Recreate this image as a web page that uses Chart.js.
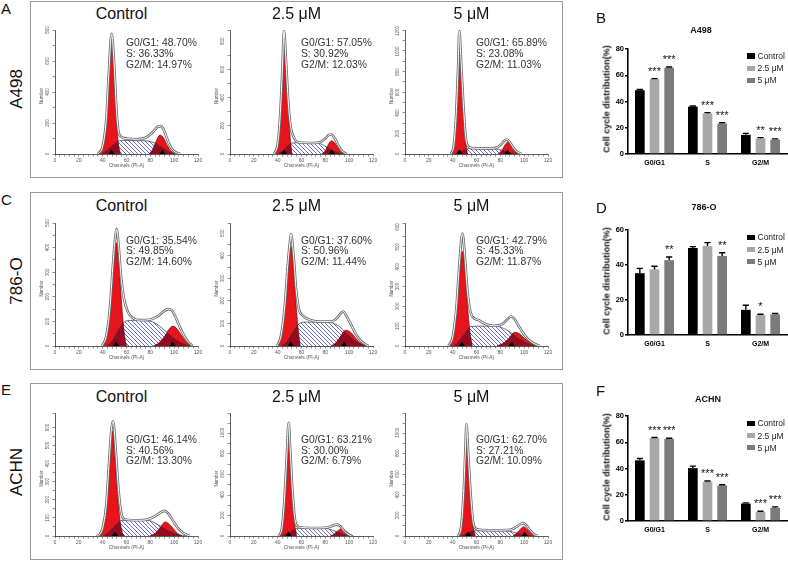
<!DOCTYPE html>
<html>
<head>
<meta charset="utf-8">
<title>Cell cycle distribution</title>
<script src="https://cdn.jsdelivr.net/npm/chart.js@4.4.0/dist/chart.umd.min.js"></script>
<style>
  body { margin: 0; background: #fff; font-family: "Liberation Sans", Arial, sans-serif; }
  #fig { position: relative; width: 788px; height: 562px; overflow: hidden; background: #fff; }
  .frame { position: absolute; border: 1px solid #9a9a9a; box-sizing: border-box; }
  .txt { position: absolute; white-space: nowrap; color: #111; line-height: 1; }
  canvas { position: absolute; }
</style>
</head>
<body>
<div id="fig"></div>
<script>
/* ---------- Labels ---------- */
const CELL_LINES = ['A498', '786-O', 'ACHN'];
const DOSES      = ['Control', '2.5 μM', '5 μM'];
const PHASES     = ['G0/G1', 'S', 'G2/M'];
const PHASE_TEXT = ['G0/G1', 'S', 'G2/M'];

/* ---------- Flow histograms: [channel, count] ---------- */
// A498
const A498_CTRL_G1  = [[37,0],[40,40],[43,200],[45,480],[47.5,750],[49.5,560],[51.5,250],[53,80],[55,0]];
const A498_CTRL_S   = [[39,0],[44,25],[49,60],[53,82],[58,88],[70,86],[78,84],[84,70],[90,40],[96,12],[100,0]];
const A498_CTRL_G2  = [[79,0],[82,30],[85,85],[88,122],[91,105],[94,60],[97,22],[101,0]];
const A498_CTRL_SUM = [[36,0],[40,50],[43,220],[45,500],[47.5,775],[49.5,600],[51.5,300],[53,160],[55,115],[60,100],[68,95],[76,105],[82,140],[86,175],[88.5,180],[91,160],[94,100],[97,45],[101,12],[105,0]];
const A498_CTRL_MARK = [47.5, 90];

const A498_LOW_G1  = [[37.5,0],[40,60],[42,250],[44,600],[45.3,865],[47,640],[49,330],[50.5,120],[52,0]];
const A498_LOW_S   = [[40,0],[44,20],[48,55],[52,78],[60,80],[70,78],[76,72],[81,50],[86,25],[91,8],[95,0]];
const A498_LOW_G2  = [[77,0],[80,25],[83,75],[85.3,94],[88,78],[91,40],[93.5,12],[96,0]];
const A498_LOW_SUM = [[37,0],[40,70],[42,260],[44,610],[45.3,875],[47,660],[49,360],[51,190],[53,130],[56,88],[62,80],[70,78],[76,85],[80,110],[83,135],[85,138],[88,110],[91,60],[94,22],[98,0]];
const A498_LOW_MARK = [45.3, 85.3];

const A498_HIGH_G1  = [[39,0],[41,80],[43,380],[44.5,800],[45.6,1185],[47,900],[49,450],[51,120],[52.5,0]];
const A498_HIGH_S   = [[41.5,0],[45,15],[49,38],[53,52],[65,52],[76,50],[81,38],[86,20],[91,6],[95,0]];
const A498_HIGH_G2  = [[78,0],[81,30],[84,90],[86.5,118],[89,95],[92,45],[94.5,12],[97,0]];
const A498_HIGH_SUM = [[38.5,0],[41,90],[43,400],[44.5,820],[45.6,1200],[47,920],[49,480],[51,160],[53,75],[56,58],[65,55],[75,57],[80,85],[83,125],[85.3,142],[88,115],[91,60],[94,22],[98,0]];
const A498_HIGH_MARK = [45.6, 86];

// 786-O
const O786_CTRL_G1  = [[40.5,0],[43,30],[46,130],[48.5,290],[50.5,410],[51.5,420],[53.5,340],[55.5,200],[57.5,80],[59.5,10],[60.5,0]];
const O786_CTRL_S   = [[43,0],[47,15],[51,45],[55,80],[59,100],[65,104],[75,103],[82,98],[88,80],[94,55],[100,30],[106,12],[111,3],[114.5,0]];
const O786_CTRL_G2  = [[82.5,0],[87,12],[92,40],[96,70],[99,81],[102,72],[106,45],[110,18],[115.5,0]];
const O786_CTRL_SUM = [[39.5,0],[43,40],[46,150],[48.5,320],[50.5,440],[51.7,475],[53.5,400],[55.5,280],[58,190],[61,140],[65,115],[72,105],[80,108],[86,120],[91,140],[95,150],[98,145],[101,120],[104,85],[108,45],[112,15],[115.5,0]];
const O786_CTRL_MARK = [51.2, 98.7];

const O786_LOW_G1  = [[40.5,0],[43,40],[46,160],[48.5,330],[50.5,435],[51.5,440],[53.5,340],[55.5,180],[57.5,60],[59,0]];
const O786_LOW_S   = [[43,0],[47,15],[51,45],[55,80],[59,102],[65,106],[78,106],[86,102],[92,85],[97,60],[102,35],[107,15],[111,5],[114.5,0]];
const O786_LOW_G2  = [[85,0],[89,15],[93,45],[97,70],[101,62],[105,38],[109,15],[114.5,0]];
const O786_LOW_SUM = [[39.5,0],[43,50],[46,180],[48.5,360],[50.5,470],[51.2,495],[53.5,390],[55.5,250],[58,160],[61,135],[66,118],[75,108],[85,108],[90,125],[93,145],[95,153],[98,130],[102,90],[106,50],[110,22],[116,0]];
const O786_LOW_MARK = [50.9, 95.7];

const O786_HIGH_G1  = [[37.5,0],[40,35],[43,160],[45.5,340],[47.5,470],[48.5,476],[50.5,370],[52.5,200],[54.5,70],[56.5,0]];
const O786_HIGH_S   = [[40.5,0],[44,15],[48,45],[52,80],[55,98],[65,100],[78,98],[84,85],[90,62],[96,35],[102,15],[107,4],[110,0]];
const O786_HIGH_G2  = [[77,0],[82,12],[87,38],[92,69],[96,62],[100,40],[105,18],[109,5],[113,0]];
const O786_HIGH_SUM = [[36.5,0],[40,45],[43,185],[45.5,400],[48.2,567],[50.5,430],[52.5,270],[55,170],[58,140],[62,130],[67,112],[75,102],[82,112],[86,135],[89,149],[92,135],[96,95],[100,58],[104,30],[109,10],[113,0]];
const O786_HIGH_MARK = [47.8, 89.4];

// ACHN
const ACHN_CTRL_G1  = [[37.5,0],[40,30],[43,150],[45.5,380],[47.5,560],[48.4,580],[50.5,420],[52.5,230],[54.5,90],[56.5,20],[58,0]];
const ACHN_CTRL_S   = [[40.5,0],[44,15],[48,40],[52,68],[56,86],[65,88],[78,86],[84,72],[90,48],[96,25],[102,10],[107,3],[110.5,0]];
const ACHN_CTRL_G2  = [[79.5,0],[84,15],[88,45],[92.5,78],[96,65],[100,35],[103,14],[106.5,0]];
const ACHN_CTRL_SUM = [[35,0],[38,12],[40,45],[43,170],[45.5,420],[47.5,600],[48.8,634],[51,470],[53,280],[55,150],[57,100],[60,90],[70,87],[78,92],[84,110],[89,132],[92,139],[95,125],[99,85],[103,45],[108,15],[113,0]];
const ACHN_CTRL_MARK = [50.3];

const ACHN_LOW_G1  = [[41.5,0],[43.5,60],[45.5,300],[47.5,700],[49.2,1050],[50.5,800],[52.5,380],[54.5,100],[56,0]];
const ACHN_LOW_S   = [[43,0],[46,12],[50,38],[54,62],[57,75],[68,76],[80,74],[85,60],[90,38],[95,16],[100.5,0]];
const ACHN_LOW_G2  = [[84,0],[87,15],[90,45],[93.5,70],[97,50],[100,22],[103.5,0]];
const ACHN_LOW_SUM = [[41,0],[43.5,70],[45.5,320],[47.5,740],[49.2,1095],[50.5,840],[52.5,420],[54.5,160],[56.5,95],[60,82],[70,78],[80,80],[85,95],[89,110],[92,100],[95,60],[98,25],[102,0]];
const ACHN_LOW_MARK = [49];

const ACHN_HIGH_G1  = [[45,0],[47,70],[49,350],[50.5,750],[51.6,1060],[53,780],[55,380],[57,110],[59,0]];
const ACHN_HIGH_S   = [[47,0],[50,15],[54,38],[58,50],[70,51],[85,49],[90,40],[95,22],[100,8],[107,0]];
const ACHN_HIGH_G2  = [[90.5,0],[93,20],[96,55],[99.5,90],[102,70],[105,35],[108,10],[110.5,0]];
const ACHN_HIGH_SUM = [[44.5,0],[47,80],[49,370],[50.5,780],[51.6,1080],[53,810],[55,420],[57,150],[59,75],[63,60],[75,56],[88,60],[93,85],[97,115],[99.5,122],[102,100],[105,55],[108,18],[111,0]];
const ACHN_HIGH_MARK = [53, 100.4];

/* ---------- Histogram axes (count range + label step) ---------- */
const A498_YMAX = [800, 880, 1210];   const A498_YSTEP = [200, 200, 200];
const O786_YMAX = [500, 545, 620];    const O786_YSTEP = [100, 100, 100];
const ACHN_YMAX = [680, 1190, 1190];  const ACHN_YSTEP = [100, 200, 200];
const CHANNEL_TICKS = [0, 20, 40, 60, 80, 100, 120];

/* ---------- Phase percentages printed on the histograms ---------- */
const A498_PCT = [[48.70, 36.33, 14.97], [57.05, 30.92, 12.03], [65.89, 23.08, 11.03]];
const O786_PCT = [[35.54, 49.85, 14.60], [37.60, 50.96, 11.44], [42.79, 45.33, 11.87]];
const ACHN_PCT = [[46.14, 40.56, 13.30], [63.21, 30.00, 6.79],  [62.70, 27.21, 10.09]];

/* ---------- Bar charts (mean, error, significance) ---------- */
const A498_BAR = [[48.6, 36.1, 14.6], [57.0, 30.9, 11.9], [65.7, 23.2, 11.0]];
const A498_ERR = [[0.6, 0.5, 1.1], [0.4, 0.6, 0.6], [0.6, 0.6, 0.5]];
const A498_SIG = [['', '', ''], ['***', '***', '**'], ['***', '***', '***']];

const O786_BAR = [[35.3, 49.7, 14.4], [37.5, 50.9, 11.4], [42.8, 45.2, 11.8]];
const O786_ERR = [[2.8, 0.8, 2.6], [1.8, 1.9, 0.5], [1.8, 1.8, 0.5]];
const O786_SIG = [['', '', ''], ['', '', '*'], ['**', '**', '']];

const ACHN_BAR = [[46.2, 40.3, 13.3], [63.1, 29.9, 6.9], [62.6, 27.1, 10.1]];
const ACHN_ERR = [[1.4, 1.5, 0.5], [0.5, 0.6, 0.5], [0.5, 0.5, 0.7]];
const ACHN_SIG = [['', '', ''], ['***', '***', '***'], ['***', '***', '***']];

const BAR_YMAX = [80, 60, 80];
const BAR_TICKS = [0, 20, 40, 60, 80];

/* ---------- Layout ---------- */
const FONT = '"Liberation Sans", Arial, sans-serif';
const RED = '#e8141c';
const BAR_COLORS = ['#000000', '#a8a8a8', '#7c7c7c'];
const COL_X0 = [55, 230, 405];
const PLOT_W = 143;
const ROW_TOP = [29, 222, 412];
const ROW_BASE = [154, 346, 536];
const ROW_FRAME = [[1, 178], [192, 370], [383, 560]];
const TITLE_Y = [14, 206, 396.5];
const PCT_Y = [[43.3, 54, 64.8], [240.5, 251, 261.5], [440.3, 450.8, 461.3]];
const ROW_LETTER_Y = [8, 199, 389];
const ROW_NAME_Y = [89, 281, 472];
const BAR_TOP = [48.7, 230, 416];
const BAR_BASE = [154, 335, 521];
const BAR_TITLE = [[701, 30], [704, 206.7], [708, 399.3]];
const BAR_LETTER = [['B', 17], ['D', 207], ['F', 390]];
const ROW_LETTER = ['A', 'C', 'E'];
const LEGEND_DY = [7.3, 19.5, 31.7];

Chart.defaults.font.family = FONT;

const fig = document.getElementById('fig');

function addText(str, x, y, css, anchor) {
  const d = document.createElement('div');
  d.className = 'txt';
  d.textContent = str;
  Object.assign(d.style, { left: x + 'px', top: y + 'px' }, css || {});
  d.style.transform = anchor || 'translate(-50%,-50%)';
  fig.appendChild(d);
  return d;
}

function addCanvas(left, top, w, h) {
  const c = document.createElement('canvas');
  c.width = w; c.height = h;
  c.style.left = left + 'px'; c.style.top = top + 'px';
  c.style.width = w + 'px'; c.style.height = h + 'px';
  fig.appendChild(c);
  return c;
}

/* hatch tile for the S phase area: crisp one-pixel diagonal */
const hatchTile = (() => {
  const c = document.createElement('canvas');
  c.width = 4; c.height = 4;
  const g = c.getContext('2d');
  g.fillStyle = '#fff'; g.fillRect(0, 0, 4, 4);
  g.fillStyle = '#6b6bd4';
  for (let i = 0; i < 4; i++) g.fillRect(i, i, 1, 1);
  return c;
})();

/* triangle marker sitting on the baseline */
const triMarker = (() => {
  const c = document.createElement('canvas');
  c.width = 7; c.height = 10;
  const g = c.getContext('2d');
  g.fillStyle = '#000';
  g.beginPath(); g.moveTo(3.5, 0.5); g.lineTo(6.5, 5); g.lineTo(0.5, 5); g.closePath(); g.fill();
  return c;
})();

/* ---------- Plugins ---------- */
// per-dataset composite mode; must run before the filler so the fill uses it
const compositePlugin = {
  id: 'composite',
  beforeDatasetDraw(chart, args) {
    const op = chart.data.datasets[args.index].composite;
    if (op) { chart.ctx.save(); chart.ctx.globalCompositeOperation = op; }
  },
  afterDatasetDraw(chart, args) {
    if (chart.data.datasets[args.index].composite) chart.ctx.restore();
  }
};
const fillerPlugin = Chart.registry.getPlugin('filler');
Chart.unregister(fillerPlugin);
Chart.register(compositePlugin, fillerPlugin);

const histDecor = {
  id: 'histDecor',
  afterDraw(chart, args, o) {
    if (!o || !o.step) return;
    const { ctx, chartArea, scales } = chart;
    ctx.save();
    ctx.fillStyle = '#555';
    ctx.font = '4.5px ' + FONT;
    ctx.textAlign = 'center';
    ctx.textBaseline = 'middle';
    for (let v = 0; v <= scales.y.max; v += o.step) {
      const y = scales.y.getPixelForValue(v);
      ctx.save();
      ctx.translate(chartArea.left - 7, y);
      ctx.rotate(-Math.PI / 2);
      ctx.fillText(String(v), 0, 0);
      ctx.restore();
    }
    ctx.translate(chartArea.left - 13, (chartArea.top + chartArea.bottom) / 2 + 4);
    ctx.rotate(-Math.PI / 2);
    ctx.fillText('Number', 0, 0);
    ctx.restore();
  }
};

const errorBars = {
  id: 'errorBars',
  afterDatasetsDraw(chart) {
    const { ctx } = chart;
    const y = chart.scales.y;
    chart.data.datasets.forEach((ds, i) => {
      chart.getDatasetMeta(i).data.forEach((bar, j) => {
        const yTop = y.getPixelForValue(ds.data[j] + ds.errors[j]);
        const half = bar.width * 0.32;
        ctx.save();
        ctx.strokeStyle = '#000';
        ctx.lineWidth = 1.4;
        ctx.beginPath();
        ctx.moveTo(bar.x, bar.y); ctx.lineTo(bar.x, yTop);
        ctx.moveTo(bar.x - half, yTop); ctx.lineTo(bar.x + half, yTop);
        ctx.stroke();
        if (ds.stars[j]) {
          ctx.fillStyle = '#111';
          ctx.font = '11px ' + FONT;
          ctx.textAlign = 'center';
          ctx.textBaseline = 'alphabetic';
          ctx.fillText(ds.stars[j], bar.x, yTop - 4);
        }
        ctx.restore();
      });
    });
  }
};

/* ---------- Histogram ---------- */
function histogram(x0, top, base, ymax, ystep, g1, s, g2, sum, marks) {
  const padL = 22, padT = 4, padR = 8, boxH = 16;
  const w = padL + PLOT_W + padR, h = padT + (base - top) + boxH;
  const cv = addCanvas(x0 - padL, top - padT, w, h);
  const pattern = cv.getContext('2d').createPattern(hatchTile, 'repeat');
  const area = (data, color, order) => ({
    data, fill: 'origin', backgroundColor: color, borderColor: '#4a0000', borderWidth: 0.6, order
  });
  return new Chart(cv, {
    type: 'line',
    data: {
      datasets: [
        area(g1, RED, 9),
        area(g2, RED, 8),
        { data: s, fill: 'origin', backgroundColor: 'rgba(70,0,30,0.5)', borderWidth: 0, composite: 'source-atop', order: 7 },
        { data: s, fill: 'origin', backgroundColor: pattern, borderWidth: 0, composite: 'destination-over', order: 6 },
        { data: s, fill: false, borderColor: '#333', borderWidth: 0.7, order: 5 },
        { data: sum, fill: false, borderColor: '#6a6a6a', borderWidth: 2.6, order: 3 },
        { data: sum, fill: false, borderColor: '#ffffff', borderWidth: 1, order: 2 },
        { data: marks.map(m => [m, 0]), showLine: false, pointStyle: triMarker, pointRadius: 4, clip: false, order: 1 }
      ]
    },
    options: {
      animation: false, responsive: false, events: [],
      layout: { padding: { left: 0, top: padT, right: padR, bottom: 0 } },
      elements: { point: { radius: 0 }, line: { cubicInterpolationMode: 'monotone' } },
      plugins: { legend: { display: false }, tooltip: { enabled: false }, histDecor: { step: ystep } },
      scales: {
        x: {
          type: 'linear', min: 0, max: 120,
          afterFit: sc => { sc.height = boxH; sc.paddingLeft = 0; sc.paddingRight = 0; },
          border: { color: '#333', width: 0.8 },
          grid: { drawOnChartArea: false, tickLength: 2.5, color: '#444', lineWidth: 0.6 },
          ticks: {
            stepSize: 4, autoSkip: false, maxRotation: 0, padding: 1,
            font: { size: 5 }, color: '#555',
            callback: v => CHANNEL_TICKS.includes(v) ? String(v) : ''
          },
          title: { display: true, text: 'Channels (PI-A)', font: { size: 5 }, color: '#555', padding: { top: 0, bottom: 1 } }
        },
        y: {
          min: 0, max: ymax,
          afterFit: sc => { sc.width = padL; sc.paddingTop = 0; sc.paddingBottom = 0; },
          border: { color: '#333', width: 0.8 },
          grid: { drawOnChartArea: false, tickLength: 2.5, color: '#444', lineWidth: 0.6 },
          ticks: { display: false, stepSize: ystep / 2 }
        }
      }
    },
    plugins: [histDecor]
  });
}

/* ---------- Bar chart ---------- */
function barChart(top, base, ymax, vals, errs, sig) {
  const padT = 10, yW = 28, xH = 22;
  const cv = addCanvas(600, top - padT, 188, padT + (base - top) + xH);
  return new Chart(cv, {
    type: 'bar',
    data: {
      labels: PHASES,
      datasets: DOSES.map((d, i) => ({
        label: d, data: vals[i], errors: errs[i], stars: sig[i],
        backgroundColor: BAR_COLORS[i], borderWidth: 0,
        barPercentage: 0.66, categoryPercentage: 0.83
      }))
    },
    options: {
      animation: false, responsive: false, events: [],
      layout: { padding: { left: 0, top: padT, right: 1, bottom: 0 } },
      plugins: { legend: { display: false }, tooltip: { enabled: false } },
      scales: {
        x: {
          afterFit: sc => { sc.height = xH; sc.paddingLeft = 0; sc.paddingRight = 0; },
          grid: { display: false, drawTicks: false },
          border: { color: '#000', width: 1.6 },
          ticks: { font: { size: 7, weight: 'bold' }, color: '#000', padding: 5 }
        },
        y: {
          min: 0, max: ymax,
          afterFit: sc => { sc.width = yW; sc.paddingTop = 0; sc.paddingBottom = 0; },
          grid: { drawOnChartArea: false, tickLength: 3, color: '#000', lineWidth: 1.4 },
          border: { color: '#000', width: 1.6 },
          ticks: {
            stepSize: 20, font: { size: 7.5, weight: 'bold' }, color: '#000', padding: 1,
            callback: v => BAR_TICKS.includes(v) ? String(v) : ''
          }
        }
      }
    },
    plugins: [errorBars]
  });
}

/* ---------- Assemble ---------- */
const HISTS = [
  [[A498_CTRL_G1, A498_CTRL_S, A498_CTRL_G2, A498_CTRL_SUM, A498_CTRL_MARK],
   [A498_LOW_G1,  A498_LOW_S,  A498_LOW_G2,  A498_LOW_SUM,  A498_LOW_MARK],
   [A498_HIGH_G1, A498_HIGH_S, A498_HIGH_G2, A498_HIGH_SUM, A498_HIGH_MARK]],
  [[O786_CTRL_G1, O786_CTRL_S, O786_CTRL_G2, O786_CTRL_SUM, O786_CTRL_MARK],
   [O786_LOW_G1,  O786_LOW_S,  O786_LOW_G2,  O786_LOW_SUM,  O786_LOW_MARK],
   [O786_HIGH_G1, O786_HIGH_S, O786_HIGH_G2, O786_HIGH_SUM, O786_HIGH_MARK]],
  [[ACHN_CTRL_G1, ACHN_CTRL_S, ACHN_CTRL_G2, ACHN_CTRL_SUM, ACHN_CTRL_MARK],
   [ACHN_LOW_G1,  ACHN_LOW_S,  ACHN_LOW_G2,  ACHN_LOW_SUM,  ACHN_LOW_MARK],
   [ACHN_HIGH_G1, ACHN_HIGH_S, ACHN_HIGH_G2, ACHN_HIGH_SUM, ACHN_HIGH_MARK]]
];
const YMAX = [A498_YMAX, O786_YMAX, ACHN_YMAX];
const YSTEP = [A498_YSTEP, O786_YSTEP, ACHN_YSTEP];
const PCT = [A498_PCT, O786_PCT, ACHN_PCT];
const BARS = [[A498_BAR, A498_ERR, A498_SIG], [O786_BAR, O786_ERR, O786_SIG], [ACHN_BAR, ACHN_ERR, ACHN_SIG]];

CELL_LINES.forEach((line, r) => {
  // frame around the three histograms
  const f = document.createElement('div');
  f.className = 'frame';
  Object.assign(f.style, { left: '30px', top: ROW_FRAME[r][0] + 'px', width: (563 - 30) + 'px', height: (ROW_FRAME[r][1] - ROW_FRAME[r][0]) + 'px' });
  fig.appendChild(f);

  addText(ROW_LETTER[r], 1, ROW_LETTER_Y[r], { fontSize: '15px' }, 'translate(0,-50%)');
  addText(line, 16, ROW_NAME_Y[r], { fontSize: '17px' }, 'translate(-50%,-50%) rotate(-90deg)');

  DOSES.forEach((dose, c) => {
    const x0 = COL_X0[c];
    const hd = HISTS[r][c];
    histogram(x0, ROW_TOP[r], ROW_BASE[r], YMAX[r][c], YSTEP[r][c], hd[0], hd[1], hd[2], hd[3], hd[4]);
    addText(dose, x0 + 66.5, TITLE_Y[r], { fontSize: '16px' });
    PHASE_TEXT.forEach((p, k) => {
      addText(p + ': ' + PCT[r][c][k].toFixed(2) + '%', x0 + 71, PCT_Y[r][k], { fontSize: '10.3px', color: '#333' }, 'translate(0,-50%)');
    });
  });

  // bar panel
  const [vals, errs, sig] = BARS[r];
  barChart(BAR_TOP[r], BAR_BASE[r], BAR_YMAX[r], vals, errs, sig);
  addText(BAR_LETTER[r][0], 596, BAR_LETTER[r][1], { fontSize: '15px' }, 'translate(0,-50%)');
  addText(line, BAR_TITLE[r][0], BAR_TITLE[r][1], { fontSize: '9px', fontWeight: 'bold' });
  addText('Cell cycle distribution(%)', 607.3, (BAR_TOP[r] + BAR_BASE[r]) / 2 - 2,
          { fontSize: '9px', fontWeight: 'bold' }, 'translate(-50%,-50%) rotate(-90deg)');
  DOSES.forEach((dose, i) => {
    const y = BAR_TOP[r] + LEGEND_DY[i];
    const sq = document.createElement('div');
    Object.assign(sq.style, { position: 'absolute', left: '747px', top: (y - 2.7) + 'px', width: '8.3px', height: '5.4px', background: BAR_COLORS[i] });
    fig.appendChild(sq);
    addText(dose, 757.5, y, { fontSize: '8.5px', color: '#222' }, 'translate(0,-50%)');
  });
});
</script>
</body>
</html>
